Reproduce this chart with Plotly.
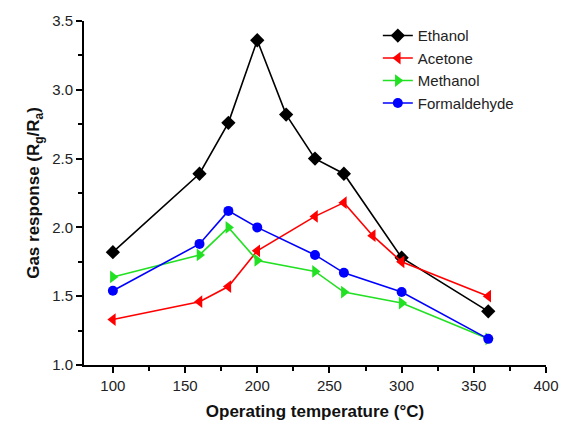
import plotly.graph_objects as go

temps_eth = [100, 160, 180, 200, 220, 240, 260, 300, 360]
ethanol = [1.82, 2.39, 2.76, 3.36, 2.82, 2.50, 2.39, 1.78, 1.39]
temps_ace = [100, 160, 180, 200, 240, 260, 280, 300, 360]
acetone = [1.33, 1.46, 1.57, 1.83, 2.08, 2.18, 1.94, 1.75, 1.50]
temps_met = [100, 160, 180, 200, 240, 260, 300, 360]
methanol = [1.64, 1.80, 2.00, 1.76, 1.68, 1.53, 1.45, 1.19]
temps_for = [100, 160, 180, 200, 240, 260, 300, 360]
formaldehyde = [1.54, 1.88, 2.12, 2.00, 1.80, 1.67, 1.53, 1.19]

series = [
    ("Ethanol", temps_eth, ethanol, "#000000", "diamond", 11),
    ("Acetone", temps_ace, acetone, "#ff0000", "triangle-left", 11),
    ("Methanol", temps_met, methanol, "#22e022", "triangle-right", 11),
    ("Formaldehyde", temps_for, formaldehyde, "#0000ff", "circle", 10),
]

fig = go.Figure()
for name, x, y, c, sym, sz in series:
    fig.add_trace(go.Scatter(x=x, y=y, name=name, mode="lines+markers",
                             line=dict(color=c, width=1.6),
                             marker=dict(symbol=sym, size=sz, color=c)))

font = "Liberation Sans, Arial, sans-serif"
fig.update_layout(
    width=571, height=430,
    margin=dict(l=84, r=13, t=18, b=62),
    paper_bgcolor="white", plot_bgcolor="white",
    font=dict(family=font, size=15, color="#222"),
    showlegend=True,
    legend=dict(x=0.636, y=1.005, xanchor="left", yanchor="top",
                font=dict(size=15, color="#222"), bgcolor="rgba(0,0,0,0)",
                itemwidth=30, tracegroupgap=0),
    xaxis=dict(range=[80, 400], dtick=50, tick0=100, showline=True, linecolor="black",
               linewidth=2, ticks="outside", ticklen=6, tickwidth=1.5, tickcolor="black",
               showgrid=False, zeroline=False,
               minor=dict(dtick=25, tick0=100, ticks="outside", ticklen=4, tickcolor="black", tickwidth=1.5),
               title=dict(text="<b>Operating temperature (°C)</b>", font=dict(size=17, color="#111"), standoff=12),
               tickfont=dict(size=15, color="#222")),
    yaxis=dict(range=[1.0, 3.5], dtick=0.5, tickformat=".1f", showline=True, linecolor="black",
               linewidth=2, ticks="outside", ticklen=6, tickwidth=1.5, tickcolor="black",
               showgrid=False, zeroline=False,
               minor=dict(dtick=0.25, ticks="outside", ticklen=4, tickcolor="black", tickwidth=1.5),
               title=dict(text="<b>Gas response (R<sub>g</sub>/R<sub>a</sub>)</b>", font=dict(size=17, color="#111"), standoff=8),
               tickfont=dict(size=15, color="#222")),
)
fig.write_html("out.html")
